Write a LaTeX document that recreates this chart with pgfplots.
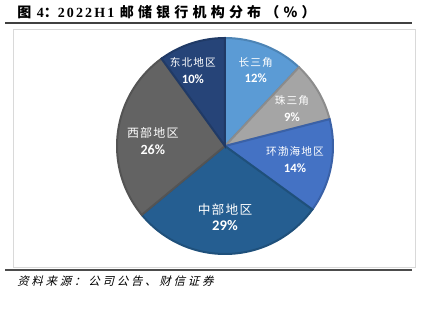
\documentclass[border=0pt]{standalone}
\usepackage{fontspec}
\usepackage{pgfplots}
\pgfplotsset{compat=1.18}
\usepgfplotslibrary{polar}
\setmainfont{Liberation Serif}
\newfontfamily\cjk[LetterSpace=10]{Noto Sans CJK SC}
\newfontfamily\cjktitle[LetterSpace=30]{Noto Sans CJK SC}
\newfontfamily\latintitle[LetterSpace=15]{Liberation Serif}
\newfontfamily\cjksrc[LetterSpace=24,FakeSlant=0.25]{Noto Sans CJK SC}
\newfontfamily\pct{Carlito}
\definecolor{cA}{HTML}{5B9BD5}
\definecolor{cB}{HTML}{A5A5A5}
\definecolor{cC}{HTML}{4472C4}
\definecolor{cD}{HTML}{255E91}
\definecolor{cE}{HTML}{636363}
\definecolor{cF}{HTML}{264478}
\newcommand{\lab}[4]{{\fontsize{#1}{#2}\selectfont\cjk #3}\\[0.5pt]{\fontsize{#2}{#2}\selectfont\pct\bfseries #4}}
\begin{document}
\begin{tikzpicture}
\begin{scope}[x=0.75pt,y=-0.75pt,yshift=231pt]
\path (0,0) rectangle (426,308);
\draw[color=black!75, line width=1.5pt] (5,22.5) -- (412,22.5);
\draw[color=black!15, line width=0.75pt] (13,29) rectangle (415,267);
\draw[color=black!70, line width=1.8pt] (5,270) -- (412,270);
\node[anchor=base west, inner sep=0pt] at (17,17) {\fontsize{10.5}{12}\selectfont\bfseries\cjktitle 图\latintitle{} 4\cjktitle：\latintitle 2022H1 \cjktitle 邮储银行机构分布（\%）};
\node[anchor=base west, inner sep=0pt] at (17,286) {\fontsize{8.6}{10}\selectfont\cjksrc 资料来源：公司公告、财信证券};
\end{scope}
\begin{polaraxis}[
  at={(168.75pt,121.5pt)}, anchor=origin,
  scale only axis, width=162pt, height=162pt,
  ymin=0, ymax=1, enlargelimits=false,
  hide axis, clip=false,
]
% values (%): 长三角 12, 珠三角 9, 环渤海地区 14, 中部地区 29, 西部地区 26, 东北地区 10
\addplot[fill=cA, draw=cA!85!black, line width=1.5pt, domain={90-3.6*12}:{90}, samples=40] {1} -- (0,0) -- cycle;
\addplot[fill=cB, draw=cB!85!black, line width=1.5pt, domain={90-3.6*(12+9)}:{90-3.6*12}, samples=40] {1} -- (0,0) -- cycle;
\addplot[fill=cC, draw=cC!85!black, line width=1.5pt, domain={90-3.6*(12+9+14)}:{90-3.6*(12+9)}, samples=40] {1} -- (0,0) -- cycle;
\addplot[fill=cD, draw=cD!85!black, line width=1.5pt, domain={90-3.6*(12+9+14+29)}:{90-3.6*(12+9+14)}, samples=60] {1} -- (0,0) -- cycle;
\addplot[fill=cE, draw=cE!85!black, line width=1.5pt, domain={90-3.6*(12+9+14+29+26)}:{90-3.6*(12+9+14+29)}, samples=60] {1} -- (0,0) -- cycle;
\addplot[fill=cF, draw=cF!85!black, line width=1.5pt, domain={90-3.6*(12+9+14+29+26+10)}:{90-3.6*(12+9+14+29+26)}, samples=40] {1} -- (0,0) -- cycle;
\node[align=center, text=white] at (axis cs:68,0.76) {\lab{8}{9.5}{长三角}{12\%}};
\node[align=center, text=white] at (axis cs:29,0.71) {\lab{8}{9.5}{珠三角}{9\%}};
\node[align=center, text=white] at (axis cs:-11,0.66) {\lab{8}{9.5}{环渤海地区}{14\%}};
\node[align=center, text=white] at (axis cs:-90,0.66) {\lab{9.5}{11}{中部地区}{29\%}};
\node[align=center, text=white] at (axis cs:176,0.67) {\lab{9}{10.5}{西部地区}{26\%}};
\node[align=center, text=white] at (axis cs:113,0.76) {\lab{8}{9.5}{东北地区}{10\%}};
\end{polaraxis}
\end{tikzpicture}
\end{document}
